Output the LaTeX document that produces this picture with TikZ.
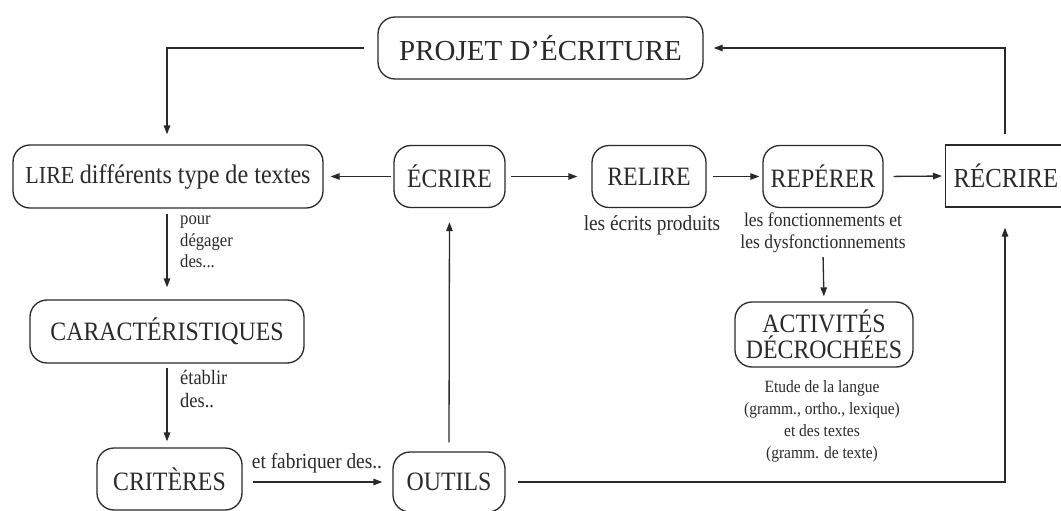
\documentclass[tikz,border=0pt]{standalone}
\usepackage{fontspec}
\setmainfont{Liberation Serif}[FakeStretch=0.9]
\newfontfamily\projfont{Liberation Serif}
\usetikzlibrary{arrows.meta}
\newcommand\bxf{\fontsize{26.5}{26}\selectfont}
\newcommand\smf{\fontsize{19}{22}\selectfont}
\newcommand\tnf{\fontsize{17.2}{22}\selectfont}
\definecolor{ink}{HTML}{2A2A2A}
\tikzset{
  rbox/.style={draw=ink, line width=1.3pt, rounded corners=17pt, inner sep=0pt, minimum height=62pt, font=\bxf, text=ink},
  arr/.style={draw=ink, line width=1.3pt, -{Triangle[length=9pt,width=6.5pt]}},
  lbl/.style={font=\smf, text=ink, inner sep=0pt},
}
\begin{document}
\begin{tikzpicture}[x=1pt,y=-1pt]
\useasboundingbox[fill=white] (0,0) rectangle (1061,511);
% nodes
\node[rbox, minimum width=325pt, minimum height=62pt, font=\projfont\fontsize{29}{29}\selectfont] (proj) at (540.5,48) {PROJET D’ÉCRITURE};
\node[rbox, minimum width=310pt, minimum height=63pt] (lire) at (168,176.5) {\fontsize{24.5}{25}\selectfont LIRE {\fontsize{26.8}{25}\selectfont différents type de textes}};
\node[rbox, minimum width=111pt] (ecrire) at (449.5,176.5) {ÉCRIRE};
\node[rbox, minimum width=114pt] (relire) at (649,176.5) {RELIRE};
\node[rbox, minimum width=120pt] (reperer) at (823,176.5) {REPÉRER};
\node[draw=ink, line width=1.3pt, anchor=west, inner ysep=0pt, inner xsep=8pt, minimum height=62pt, text width=190pt, align=left, font=\fontsize{27.5}{26}\selectfont, text=ink] (recrire) at (945,176) {RÉCRIRE};
\node[rbox, minimum width=274pt, minimum height=63pt] (caract) at (167,331.5) {CARACTÉRISTIQUES};
\node[rbox, minimum width=145pt] (crit) at (169.5,479) {CRITÈRES};
\node[rbox, minimum width=112pt, minimum height=60pt] (outils) at (449,482) {OUTILS};
\node[rbox, minimum width=178pt, minimum height=65pt, align=center] (activ) at (824,334.5) {ACTIVITÉS\\DÉCROCHÉES};
% labels
\node[lbl, font=\fontsize{21.5}{22}\selectfont] (ecrits) at (652,225) {les écrits produits};
\node[lbl, font=\fontsize{19.5}{22}\selectfont, align=center] (fonct) at (823,233) {les fonctionnements et\\les dysfonctionnements};
\node[lbl, font=\tnf, align=center] (etude) at (822,421) {Etude de la langue\\(gramm., ortho., lexique)\\et des textes\\(gramm. de texte)};
\node[lbl, font=\fontsize{18.5}{21.5}\selectfont, align=left, anchor=north west] (pour) at (180,216) {pour\\dégager\\des...};
\node[lbl, font=\fontsize{20.5}{23}\selectfont, align=left, anchor=north west] (etab) at (180,370) {établir\\des..};
\node[lbl, font=\fontsize{21.5}{22}\selectfont] (fabr) at (317,463) {et fabriquer des..};
% helper coordinates
\coordinate (rtop) at ([xshift=60pt]recrire.north west);
\coordinate (rbot) at ([xshift=60pt]recrire.south west);
\coordinate (ltop) at ([xshift=-1pt]lire.north);
% connectors
\draw[arr, shorten <=13pt, shorten >=10pt] (proj.west) -| (ltop);
\draw[arr, shorten <=2pt, shorten >=7pt] (ecrire.west) -- (lire.east);
\draw[arr, shorten <=5pt, shorten >=14pt] (ecrire.east) -- (relire.west);
\draw[arr, shorten <=6pt, shorten >=3pt] (relire.east) -- (reperer.west);
\draw[arr, shorten <=10pt, shorten >=3pt] (reperer.east) -- (recrire.west);
\draw[arr, shorten <=10pt, shorten >=10pt] (rtop) |- (proj.east);
\draw[arr, shorten <=12pt, shorten >=20pt] (outils.east) -| (rbot);
\draw[arr, shorten <=9pt, shorten >=14pt] (outils.north) -- (ecrire.south);
\draw[arr, shorten <=5pt, shorten >=12pt] (lire.south -| ltop) -- (caract.north -| ltop);
\draw[arr, shorten <=4pt, shorten >=6pt] (caract.south) -- (caract.south |- crit.north);
\draw[arr, shorten <=10pt, shorten >=10pt] (crit.east |- outils.west) -- (outils.west);
\draw[arr, shorten <=4pt, shorten >=5pt] (fonct.south) -- (activ.north);
\end{tikzpicture}
\end{document}
